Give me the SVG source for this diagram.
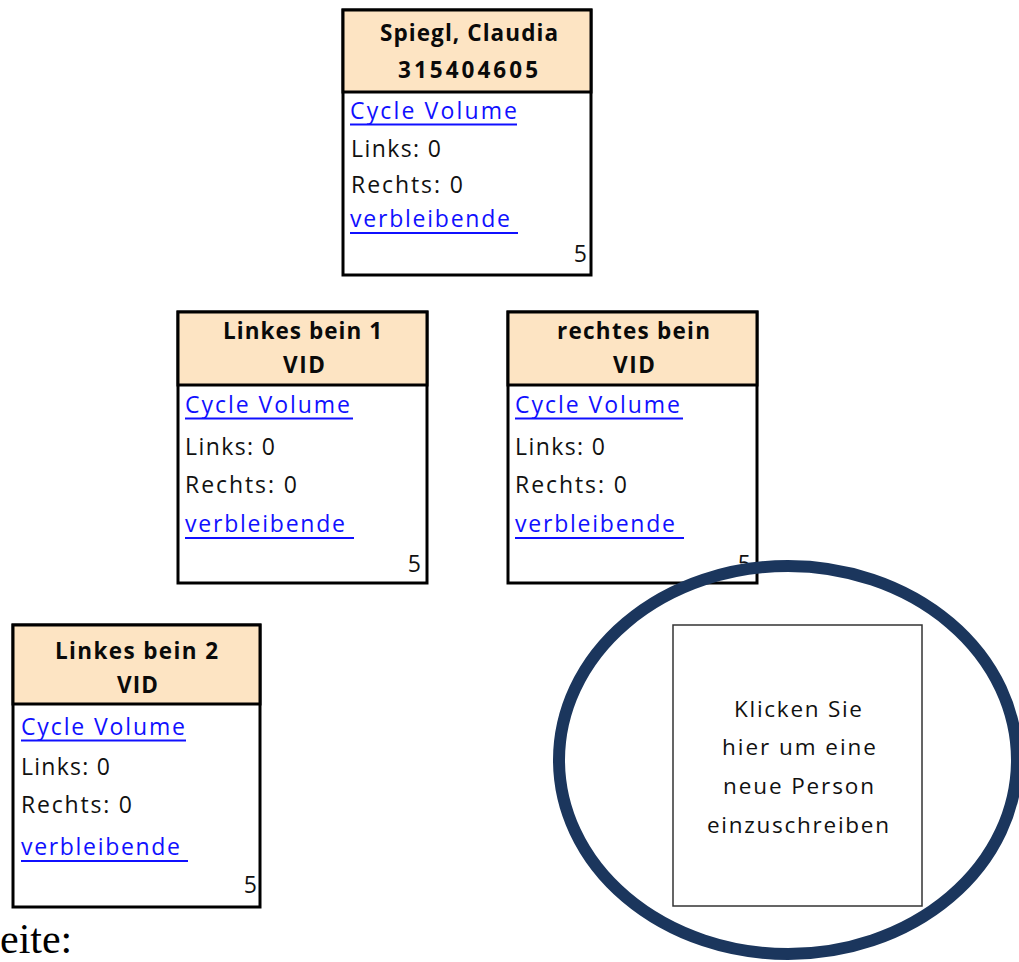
<svg xmlns="http://www.w3.org/2000/svg" width="1019" height="962" viewBox="0 0 1019 962">
<style>
.box{fill:#ffffff;stroke:#000000;stroke-width:3}
.hdr{fill:#fde4c3;stroke:#000000;stroke-width:3}
.t{font-family:"Open Sans","Noto Sans","Liberation Sans",sans-serif;font-size:23px;fill:#111111}
.h{font-family:"Open Sans","Noto Sans","Liberation Sans",sans-serif;font-size:22.5px;font-weight:bold;fill:#0a0a0a;text-anchor:middle}
.lk{font-family:"Open Sans","Noto Sans","Liberation Sans",sans-serif;font-size:23px;fill:#1010ff}
.ul{stroke:#1010ff;stroke-width:1.8}
.n{font-family:"Open Sans","Noto Sans","Liberation Sans",sans-serif;font-size:23px;fill:#111111;text-anchor:end}
.c{font-family:"Open Sans","Noto Sans","Liberation Sans",sans-serif;font-size:22.5px;fill:#111111;text-anchor:middle}
</style>
<rect width="1019" height="962" fill="#ffffff"/>
<g id="connectors"></g>

<g id="node-root">
  <rect class="box" x="343" y="10" width="248" height="265"/>
  <rect class="hdr" x="343" y="10" width="248" height="82"/>
  <text class="h" x="469" y="41" textLength="178" lengthAdjust="spacing">Spiegl, Claudia</text>
  <text class="h" x="468" y="78" textLength="140" lengthAdjust="spacing">315404605</text>
  <text class="lk" x="350" y="119" textLength="167" lengthAdjust="spacing">Cycle Volume</text>
  <line class="ul" x1="350" y1="124.5" x2="517" y2="124.5"/>
  <text class="t" x="351" y="157" textLength="90" lengthAdjust="spacing">Links: 0</text>
  <text class="t" x="351" y="193" textLength="112" lengthAdjust="spacing">Rechts: 0</text>
  <text class="lk" x="350" y="227" textLength="160" lengthAdjust="spacing">verbleibende</text>
  <line class="ul" x1="350" y1="233" x2="518" y2="233"/>
  <text class="n" x="587" y="262">5</text>
</g>

<g id="node-left1">
  <rect class="box" x="178" y="312" width="249" height="271"/>
  <rect class="hdr" x="178" y="312" width="249" height="73"/>
  <text class="h" x="302.5" y="339" textLength="159" lengthAdjust="spacing">Linkes bein 1</text>
  <text class="h" x="304" y="373" textLength="42" lengthAdjust="spacing">VID</text>
  <text class="lk" x="185" y="413" textLength="165" lengthAdjust="spacing">Cycle Volume</text>
  <line class="ul" x1="185" y1="418.5" x2="353" y2="418.5"/>
  <text class="t" x="185" y="455" textLength="90" lengthAdjust="spacing">Links: 0</text>
  <text class="t" x="185" y="493" textLength="112" lengthAdjust="spacing">Rechts: 0</text>
  <text class="lk" x="185" y="532" textLength="160" lengthAdjust="spacing">verbleibende</text>
  <line class="ul" x1="185" y1="538" x2="354" y2="538"/>
  <text class="n" x="421" y="572">5</text>
</g>

<g id="node-right">
  <rect class="box" x="508" y="312" width="249" height="271"/>
  <rect class="hdr" x="508" y="312" width="249" height="73"/>
  <text class="h" x="633.5" y="339" textLength="153" lengthAdjust="spacing">rechtes bein</text>
  <text class="h" x="634" y="373" textLength="42" lengthAdjust="spacing">VID</text>
  <text class="lk" x="515" y="413" textLength="165" lengthAdjust="spacing">Cycle Volume</text>
  <line class="ul" x1="515" y1="418.5" x2="683" y2="418.5"/>
  <text class="t" x="515" y="455" textLength="90" lengthAdjust="spacing">Links: 0</text>
  <text class="t" x="515" y="493" textLength="112" lengthAdjust="spacing">Rechts: 0</text>
  <text class="lk" x="515" y="532" textLength="160" lengthAdjust="spacing">verbleibende</text>
  <line class="ul" x1="515" y1="538" x2="684" y2="538"/>
  <text class="n" x="751" y="572">5</text>
</g>

<g id="node-left2">
  <rect class="box" x="13" y="625" width="247" height="282"/>
  <rect class="hdr" x="13" y="625" width="247" height="79"/>
  <text class="h" x="136.5" y="659" textLength="163" lengthAdjust="spacing">Linkes bein 2</text>
  <text class="h" x="137.5" y="693" textLength="41" lengthAdjust="spacing">VID</text>
  <text class="lk" x="21" y="735" textLength="164" lengthAdjust="spacing">Cycle Volume</text>
  <line class="ul" x1="21" y1="740.5" x2="186" y2="740.5"/>
  <text class="t" x="21" y="775" textLength="89" lengthAdjust="spacing">Links: 0</text>
  <text class="t" x="21" y="813" textLength="111" lengthAdjust="spacing">Rechts: 0</text>
  <text class="lk" x="21" y="855" textLength="159" lengthAdjust="spacing">verbleibende</text>
  <line class="ul" x1="21" y1="861" x2="188" y2="861"/>
  <text class="n" x="257" y="893">5</text>
</g>

<g id="node-enroll">
  <ellipse cx="788" cy="760" rx="229" ry="194" fill="none" stroke="#1b365d" stroke-width="12"/>
  <rect x="673" y="625" width="249" height="281" fill="#ffffff" stroke="#333333" stroke-width="1.5"/>
  <text class="c" x="798" y="717" textLength="128" lengthAdjust="spacing">Klicken Sie</text>
  <text class="c" x="799" y="755" textLength="154" lengthAdjust="spacing">hier um eine</text>
  <text class="c" x="798.5" y="794" textLength="151" lengthAdjust="spacing">neue Person</text>
  <text class="c" x="798" y="833" textLength="182" lengthAdjust="spacing">einzuschreiben</text>
</g>

<text x="0" y="953" font-family="Liberation Serif, serif" font-size="42" fill="#000000">eite:</text>
</svg>
